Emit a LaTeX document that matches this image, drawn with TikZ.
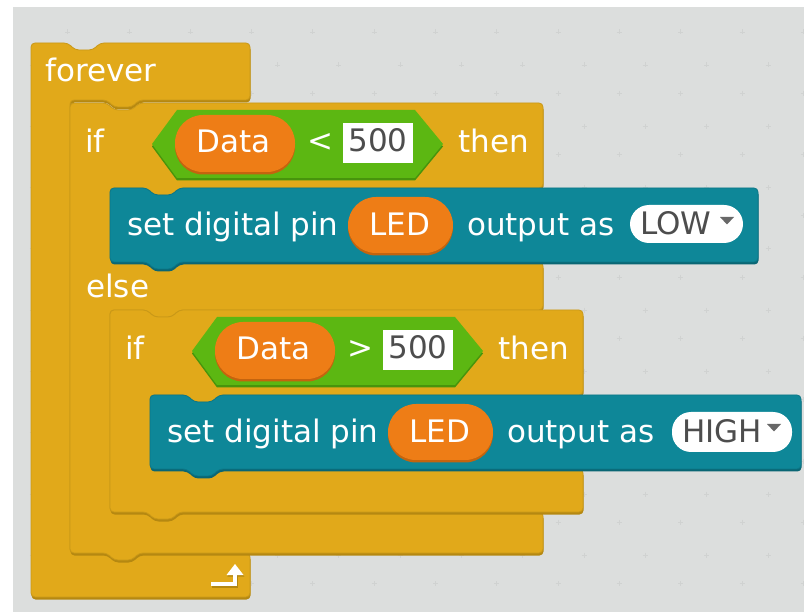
\documentclass[tikz,border=0pt]{standalone}
\usepackage{fontspec}
\newfontfamily\blockfont{DejaVu Sans}
\definecolor{canvas}{HTML}{DCDEDD}
\definecolor{crossc}{HTML}{D0D2D1}
\definecolor{ctrl}{HTML}{E1A91A}
\definecolor{ctrlDark}{HTML}{B58811}
\definecolor{ctrlLine}{HTML}{C99818}
\definecolor{robot}{HTML}{0E8798}
\definecolor{robotDark}{HTML}{0A6674}
\definecolor{robotLine}{HTML}{0C7787}
\definecolor{oper}{HTML}{5CB712}
\definecolor{operDark}{HTML}{47940C}
\definecolor{var}{HTML}{EE7D16}
\definecolor{varDark}{HTML}{C4640E}
\definecolor{fieldtext}{HTML}{4D4D4D}
\begin{document}
\begin{tikzpicture}[x=1pt,y=-1pt,
  lbl/.style={anchor=base west, inner sep=0pt, text=white,
    font=\blockfont\fontsize{31}{36}\selectfont},
  lblc/.style={lbl, anchor=base},
  fieldlbl/.style={lbl, text=fieldtext},
  fieldlblc/.style={lblc, text=fieldtext},
  ctrlblock/.style={fill=ctrl, draw=ctrlLine, line width=0.8pt, rounded corners=4pt},
  ctrlshade/.style={fill=ctrlDark, rounded corners=4pt, shift={(0.5,2.5)}},
  robotblock/.style={fill=robot, draw=robotLine, line width=0.8pt, rounded corners=4pt},
  robotshade/.style={fill=robotDark, rounded corners=4pt, shift={(0.5,2.5)}},
  operblock/.style={fill=oper},
  opershade/.style={fill=operDark, shift={(0,2.5)}},
  varpill/.style={fill=var, rounded corners=28pt},
  varshade/.style={fill=varDark, rounded corners=28pt, shift={(0,2.5)}},
  menupill/.style={fill=white, rounded corners=19pt},
  numbox/.style={fill=white},
  gridcross/.style={draw=crossc, line width=0.9pt}
]
\useasboundingbox (0,0) rectangle (804,612);
\fill[white] (0,0) rectangle (804,612);
\fill[canvas] (13,7) rectangle (804,612);

% faint canvas grid
\foreach \i in {0,...,12}{
  \foreach \j in {0,...,9}{
    \draw[gridcross] ({67.7+61.3*\i-2.5},{32+61.3*\j}) -- ++(5,0)
                     ({67.7+61.3*\i},{32+61.3*\j-2.5}) -- ++(0,5);
    \draw[gridcross] ({32.4+61.3*\i-2.5},{65+61.3*\j}) -- ++(5,0)
                     ({32.4+61.3*\i},{65+61.3*\j-2.5}) -- ++(0,5);
  }
}

% block outlines
\def\foreverpath{(31,43) -- (68,43) -- (75,50) -- (93,50) -- (100,43) -- (250,43)
  -- (250,100) -- (139,100) -- (132,107) -- (114,107) -- (107,100) -- (70,100)
  -- (70,553) -- (250,553) -- (250,597) -- (31,597) -- cycle}
\def\ifelsepath{(70,103) -- (107,103) -- (114,110) -- (132,110) -- (139,103) -- (543,103)
  -- (543,188) -- (179,188) -- (172,195) -- (154,195) -- (147,188) -- (110,188)
  -- (110,262) -- (543,262) -- (543,310) -- (179,310) -- (172,317) -- (154,317)
  -- (147,310) -- (110,310) -- (110,512) -- (543,512) -- (543,553) -- (139,553)
  -- (132,560) -- (114,560) -- (107,553) -- (70,553) -- cycle}
\def\innerifpath{(110,310) -- (147,310) -- (154,317) -- (172,317) -- (179,310) -- (583,310)
  -- (583,395) -- (219,395) -- (212,402) -- (194,402) -- (187,395) -- (150,395)
  -- (150,469) -- (583,469) -- (583,512) -- (179,512) -- (172,519) -- (154,519)
  -- (147,512) -- (110,512) -- cycle}
\def\setlowpath{(110,188) -- (147,188) -- (154,195) -- (172,195) -- (179,188) -- (758,188)
  -- (758,262) -- (179,262) -- (172,269) -- (154,269) -- (147,262) -- (110,262) -- cycle}
\def\sethighpath{(150,395) -- (187,395) -- (194,402) -- (212,402) -- (219,395) -- (801,395)
  -- (801,469) -- (219,469) -- (212,476) -- (194,476) -- (187,469) -- (150,469) -- cycle}

% forever
\fill[ctrlshade] \foreverpath;
\path[ctrlblock] \foreverpath;
\node[lbl] (tforever) at (45,82) {forever};
% loop arrow
\begin{scope}[shift={(0.8,1.5)}]
  \draw[ctrlDark, line width=4.5pt] (211,584) -- (235,584) -- (235,573);
  \fill[ctrlDark] (226.5,575) -- (243.5,575) -- (235,564) -- cycle;
\end{scope}
\draw[white, line width=4.5pt] (211,584) -- (235,584) -- (235,573);
\fill[white] (226.5,575) -- (243.5,575) -- (235,564) -- cycle;

% if / else
\fill[ctrlshade] \ifelsepath;
\path[ctrlblock] \ifelsepath;
\node[lbl] (tif) at (85,153) {if};
\node[lbl] (telse) at (86,298) {else};

% condition: Data < 500
\def\hexA{(152,144) -- (177,110) -- (415,110) -- (443,144) -- (415,178) -- (177,178) -- cycle}
\fill[opershade] \hexA;
\fill[operblock] \hexA;
\fill[varshade] (175,115) rectangle (295,172);
\fill[varpill] (175,115) rectangle (295,172);
\node[lbl] (tdataA) at (196,153) {Data};
\node[lblc] (tlt) at (320,152) {<};
\fill[numbox] (343,123) rectangle (413,163);
\node[fieldlblc] (tnumA) at (378,152) {500};
\node[lbl] (tthenA) at (458,153) {then};

% set digital pin ... LOW
\fill[robotshade] \setlowpath;
\path[robotblock] \setlowpath;
\node[lbl] (tsetA) at (127,236) {set digital pin};
\fill[varshade] (348,197) rectangle (453,253);
\fill[varpill] (348,197) rectangle (453,253);
\node[lblc] (tledA) at (400,236) {LED};
\node[lbl] (toutA) at (467,236) {output as};
\fill[menupill] (630,205) rectangle (743,243);
\node[fieldlbl] (tlow) at (640,235) {LOW};
\fill[fieldtext!85] (720,217) -- (734,217) -- (727,224.5) -- cycle;

% nested if
\fill[ctrlshade] \innerifpath;
\path[ctrlblock] \innerifpath;
\node[lbl] (tifB) at (125,360) {if};

% condition: Data > 500
\begin{scope}[shift={(40,207)}]
  \fill[opershade] \hexA;
  \fill[operblock] \hexA;
  \fill[varshade] (175,115) rectangle (295,172);
  \fill[varpill] (175,115) rectangle (295,172);
  \node[lbl] (tdataB) at (196,153) {Data};
  \node[lblc] (tgt) at (320,152) {>};
  \fill[numbox] (343,123) rectangle (413,163);
  \node[fieldlblc] (tnumB) at (378,152) {500};
  \node[lbl] (tthenB) at (458,153) {then};
\end{scope}

% set digital pin ... HIGH
\fill[robotshade] \sethighpath;
\path[robotblock] \sethighpath;
\node[lbl] (tsetB) at (167,443) {set digital pin};
\fill[varshade] (388,404) rectangle (493,460);
\fill[varpill] (388,404) rectangle (493,460);
\node[lblc] (tledB) at (440,443) {LED};
\node[lbl] (toutB) at (507,443) {output as};
\fill[menupill] (672,412) rectangle (792,452);
\node[fieldlbl] (thigh) at (682,443) {HIGH};
\fill[fieldtext!85] (767,424) -- (781,424) -- (774,431.5) -- cycle;
\end{tikzpicture}
\end{document}
